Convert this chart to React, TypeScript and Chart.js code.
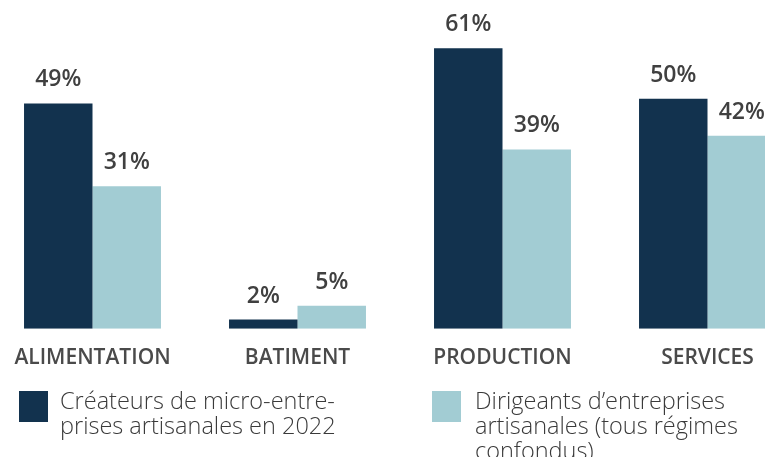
import React, { useEffect, useRef } from 'react';
import { Chart, registerables } from 'chart.js';

Chart.register(...registerables);

const categories = ['ALIMENTATION', 'BATIMENT', 'PRODUCTION', 'SERVICES'];
const createursValues = [49, 2, 61, 50];
const dirigeantsValues = [31, 5, 39, 42];
const seriesNames = ['Créateurs de micro-entreprises artisanales en 2022', 'Dirigeants d’entreprises artisanales (tous régimes confondus)'];
const legendLines = [
  ['Créateurs de micro-entre-', 'prises artisanales en 2022'],
  ['Dirigeants d’entreprises', 'artisanales (tous régimes', 'confondus)'],
];
const seriesColors = ['#12324E', '#A2CCD3'];
const yMax = 71.5;

const FONT = '"Open Sans", "Noto Sans", sans-serif';

const valueLabels = {
  id: 'valueLabels',
  afterDatasetsDraw(chart: any) {
    const ctx = chart.ctx;
    ctx.save();
    ctx.font = `600 23px ${FONT}`;
    ctx.fillStyle = '#404040';
    ctx.textAlign = 'center';
    ctx.textBaseline = 'alphabetic';
    chart.data.datasets.forEach((ds: any, i: number) => {
      const meta = chart.getDatasetMeta(i);
      meta.data.forEach((bar: any, j: number) => {
        ctx.fillText(`${ds.data[j]}%`, bar.x, bar.y - 17);
      });
    });
    ctx.restore();
  },
};

export default function App() {
  const canvasRef = useRef<HTMLCanvasElement | null>(null);

  useEffect(() => {
    if (!canvasRef.current) return;
    const chart = new Chart(canvasRef.current, {
      type: 'bar',
      data: {
        labels: categories,
        datasets: [
          {
            label: seriesNames[0],
            data: createursValues,
            backgroundColor: seriesColors[0],
            borderWidth: 0,
            categoryPercentage: 0.668,
            barPercentage: 1.0,
          },
          {
            label: seriesNames[1],
            data: dirigeantsValues,
            backgroundColor: seriesColors[1],
            borderWidth: 0,
            categoryPercentage: 0.668,
            barPercentage: 1.0,
          },
        ],
      },
      options: {
        animation: false,
        responsive: true,
        maintainAspectRatio: false,
        layout: { padding: 0 },
        plugins: {
          legend: { display: false },
          tooltip: { enabled: false },
          title: { display: false },
        },
        scales: {
          x: {
            grid: { display: false, drawTicks: false },
            border: { display: false },
            ticks: {
              padding: 17,
              color: '#4a4a4a',
              font: { family: FONT, size: 21, weight: '600', lineHeight: 1.2 },
              maxRotation: 0,
              autoSkip: false,
            },
          },
          y: {
            display: false,
            min: 0,
            max: yMax,
          },
        },
      },
      plugins: [valueLabels],
    });
    return () => chart.destroy();
  }, []);

  const textStyle: React.CSSProperties = {
    position: 'absolute',
    top: 387.5,
    fontFamily: FONT,
    fontWeight: 300,
    fontSize: 23.5,
    lineHeight: '25px',
    color: '#3a3a3a',
    whiteSpace: 'nowrap',
  };

  return (
    <div style={{ position: 'fixed', left: 0, top: 0, width: 765, height: 457, overflow: 'hidden', background: '#fff' }}>
      <div style={{ position: 'absolute', left: -10.5, top: 0, width: 820, height: 388 }}>
        <canvas ref={canvasRef} />
      </div>
      <div style={{ position: 'absolute', left: 19, top: 391, width: 29, height: 31, background: seriesColors[0] }} />
      <div style={{ ...textStyle, left: 60 }}>
        {legendLines[0].map((l, i) => (
          <div key={i}>{l}</div>
        ))}
      </div>
      <div style={{ position: 'absolute', left: 432, top: 391, width: 29, height: 31, background: seriesColors[1] }} />
      <div style={{ ...textStyle, left: 475 }}>
        {legendLines[1].map((l, i) => (
          <div key={i}>{l}</div>
        ))}
      </div>
    </div>
  );
}
